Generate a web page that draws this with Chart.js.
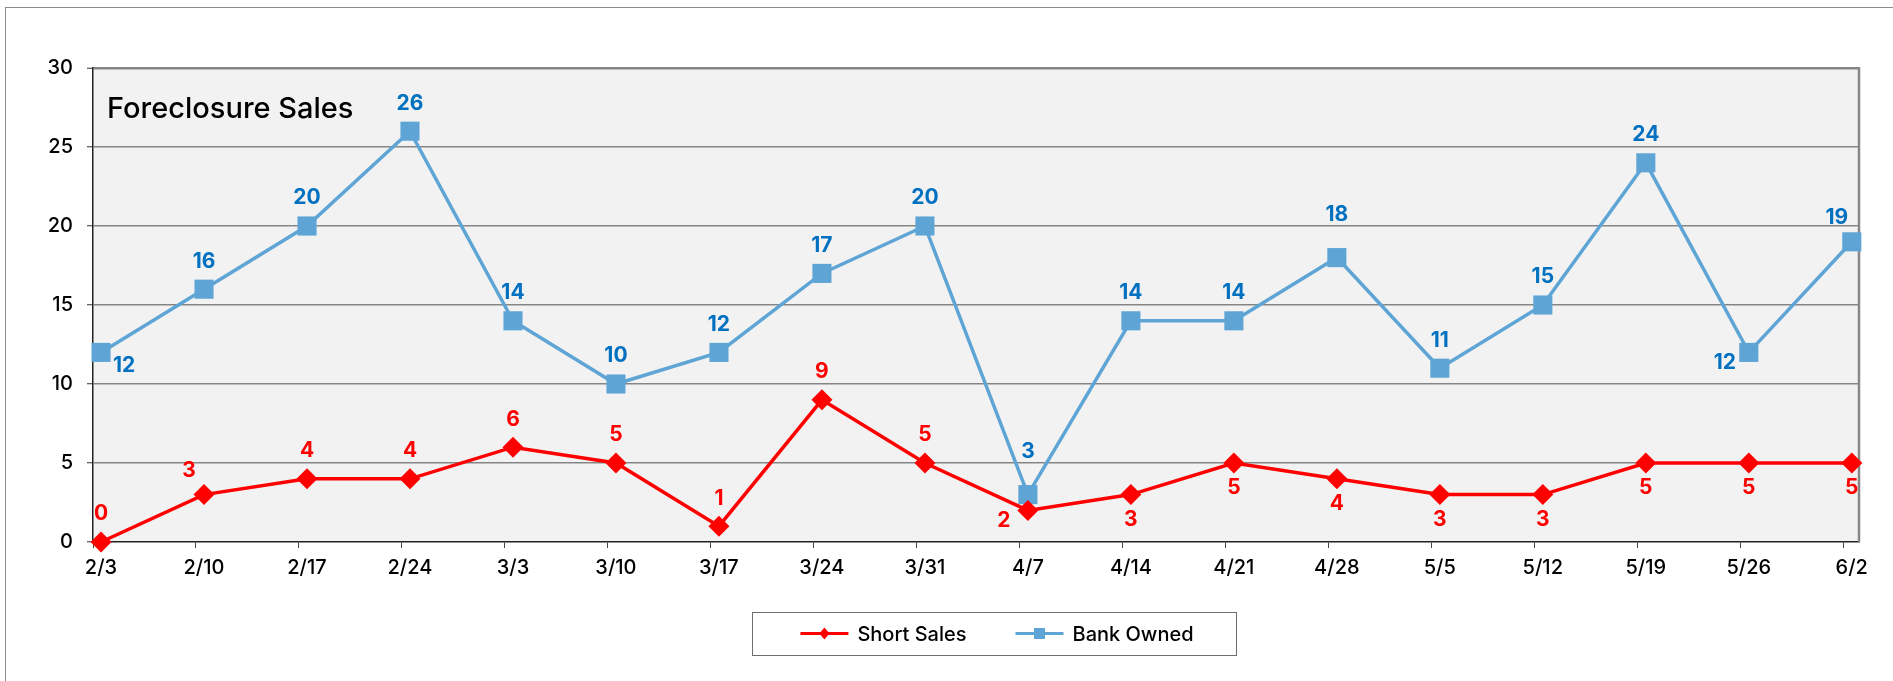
<!DOCTYPE html>
<html>
<head>
<meta charset="utf-8">
<script src="https://cdn.jsdelivr.net/npm/chart.js@4.4.1/dist/chart.umd.min.js"></script>
<style>
  html, body { margin: 0; padding: 0; background: #fff; overflow: hidden; }
  #frame { position: absolute; left: 5px; top: 7px; width: 2000px; height: 1000px; border: 1.5px solid #8c8c8c; }
  #wrap { position: absolute; left: 0; top: 0; width: 1893px; height: 681px; }
</style>
</head>
<body>
<div id="frame"></div>
<div id="wrap"><canvas id="chart" width="1893" height="681"></canvas></div>
<script>
const weeks = ['2/3', '2/10', '2/17', '2/24', '3/3', '3/10', '3/17', '3/24', '3/31',
               '4/7', '4/14', '4/21', '4/28', '5/5', '5/12', '5/19', '5/26', '6/2'];
const shortSales = [0, 3, 4, 4, 6, 5, 1, 9, 5, 2, 3, 5, 4, 3, 3, 5, 5, 5];
const bankOwned = [12, 16, 20, 26, 14, 10, 12, 17, 20, 3, 14, 14, 18, 11, 15, 24, 12, 19];
const chartTitle = 'Foreclosure Sales';

// where each value label sits relative to its marker
const shortLabelPos = ['t', 'tl', 't', 't', 't', 't', 't', 't', 't', 'bl', 'b', 'b', 'b', 'b', 'b', 'b', 'b', 'b'];
const bankLabelPos = ['br', 't', 't', 't', 't', 't', 't', 't', 't', 'tt', 't', 't', 'tt', 't', 't', 't', 'bl', 'tl'];
const labelOffsets = { t: [0, -28], tt: [0, -43], b: [0, 25], bl: [-24, 10], br: [23, 13], tl: [-15, -24] };

const RED = '#ff0000';
const BLUE = '#5ea5d6';
const BLUE_TEXT = '#0070c0';
const FONT = 'Inter, "Open Sans", sans-serif';

const toPoints = arr => arr.map((v, i) => ({ x: i, y: v }));

const plotBackground = {
  id: 'plotBackground',
  beforeDraw(chart) {
    const { ctx, chartArea: a } = chart;
    ctx.save();
    ctx.fillStyle = '#f2f2f2';
    ctx.fillRect(a.left, a.top, a.right - a.left, a.bottom - a.top);
    ctx.restore();
  },
  beforeDatasetsDraw(chart) {
    const { ctx, chartArea: a } = chart;
    ctx.save();
    ctx.strokeStyle = '#878787';
    ctx.lineWidth = 2.5;
    ctx.beginPath();
    ctx.moveTo(a.right, a.top - 1);
    ctx.lineTo(a.right, a.bottom);
    ctx.stroke();
    ctx.fillStyle = '#000';
    ctx.font = '500 29px ' + FONT;
    ctx.textBaseline = 'alphabetic';
    ctx.fillText(chartTitle, a.left + 14, a.top + 50);
    ctx.restore();
  }
};

const valueLabels = {
  id: 'valueLabels',
  afterDatasetsDraw(chart) {
    const { ctx } = chart;
    ctx.save();
    ctx.font = 'bold 21px ' + FONT;
    ctx.textAlign = 'center';
    ctx.textBaseline = 'middle';
    chart.data.datasets.forEach((ds, di) => {
      const meta = chart.getDatasetMeta(di);
      ctx.fillStyle = ds.labelColor;
      meta.data.forEach((pt, i) => {
        const off = labelOffsets[ds.labelPos[i]];
        ctx.fillText(String(ds.data[i].y), pt.x + off[0], pt.y + off[1]);
      });
    });
    ctx.restore();
  }
};

const boxLegend = {
  id: 'boxLegend',
  afterDraw(chart) {
    const { ctx, chartArea: a } = chart;
    const boxW = 484, boxH = 43;
    const cx = (a.left + a.right) / 2 + 18;
    const top = a.bottom + 70;
    const left = cx - boxW / 2;
    ctx.save();
    ctx.strokeStyle = '#6e6e6e';
    ctx.lineWidth = 1;
    ctx.strokeRect(Math.round(left) + 0.5, Math.round(top) + 0.5, boxW, boxH);
    ctx.font = '500 20px ' + FONT;
    ctx.textBaseline = 'middle';
    const lineW = 48, gap = 9, itemGap = 49;
    const items = chart.data.datasets.map(ds => ({ ds, w: ctx.measureText(ds.label).width }));
    const total = items.reduce((s, it) => s + lineW + gap + it.w, 0) + itemGap * (items.length - 1);
    let x = cx - total / 2 + 3;
    const y = top + boxH / 2;
    items.forEach(it => {
      const ds = it.ds;
      ctx.strokeStyle = ds.borderColor;
      ctx.lineWidth = 3;
      ctx.beginPath();
      ctx.moveTo(x, y);
      ctx.lineTo(x + lineW, y);
      ctx.stroke();
      ctx.fillStyle = ds.borderColor;
      const mx = x + lineW / 2;
      ctx.beginPath();
      if (ds.pointStyle === 'rectRot') {
        ctx.moveTo(mx, y - 6); ctx.lineTo(mx + 5, y); ctx.lineTo(mx, y + 6); ctx.lineTo(mx - 5, y);
        ctx.closePath();
      } else {
        ctx.rect(mx - 5.5, y - 5.5, 11, 11);
      }
      ctx.fill();
      ctx.fillStyle = '#000';
      ctx.fillText(ds.label, x + lineW + gap, y + 1);
      x += lineW + gap + it.w + itemGap;
    });
    ctx.restore();
  }
};

new Chart(document.getElementById('chart'), {
  type: 'line',
  data: {
    datasets: [
      {
        label: 'Short Sales',
        data: toPoints(shortSales),
        borderColor: RED,
        backgroundColor: RED,
        borderWidth: 3.5,
        pointStyle: 'rectRot',
        pointRadius: 10.5,
        pointBorderWidth: 0,
        clip: false,
        labelColor: RED,
        labelPos: shortLabelPos
      },
      {
        label: 'Bank Owned',
        data: toPoints(bankOwned),
        borderColor: BLUE,
        backgroundColor: BLUE,
        borderWidth: 3.5,
        pointStyle: 'rect',
        pointRadius: 13.5,
        pointBorderWidth: 0,
        clip: false,
        labelColor: BLUE_TEXT,
        labelPos: bankLabelPos
      }
    ]
  },
  options: {
    responsive: false,
    animation: false,
    layout: { padding: { left: 0, right: 34, top: 68, bottom: 99 } },
    plugins: { legend: { display: false }, tooltip: { enabled: false } },
    scales: {
      x: {
        type: 'linear',
        min: -0.078,
        max: 17.07,
        afterBuildTicks: scale => { scale.ticks = weeks.map((w, i) => ({ value: i - 0.078 })); },
        afterFit: scale => { scale.height = 40; },
        ticks: {
          autoSkip: false,
          maxRotation: 0,
          labelOffset: 8,
          padding: 8,
          color: '#000',
          font: { family: FONT, size: 20, weight: 500 },
          callback: (v, i) => weeks[i]
        },
        grid: { drawOnChartArea: false, tickLength: 6, tickColor: '#444', tickWidth: 1 },
        border: { color: '#222', width: 1.5 }
      },
      y: {
        min: 0,
        max: 30,
        afterFit: scale => { scale.width = 93; },
        ticks: {
          stepSize: 5,
          padding: 14,
          color: '#000',
          font: { family: FONT, size: 20, weight: 500 }
        },
        grid: {
          color: c => (c.tick && c.tick.value === 0) ? 'rgba(0,0,0,0)' : '#858585',
          lineWidth: c => (c.tick && c.tick.value === 30) ? 2.5 : 1.5,
          tickLength: 6,
          tickColor: '#333',
          tickWidth: 1
        },
        border: { color: '#222', width: 1.5 }
      }
    }
  },
  plugins: [plotBackground, valueLabels, boxLegend]
});
</script>
</body>
</html>
